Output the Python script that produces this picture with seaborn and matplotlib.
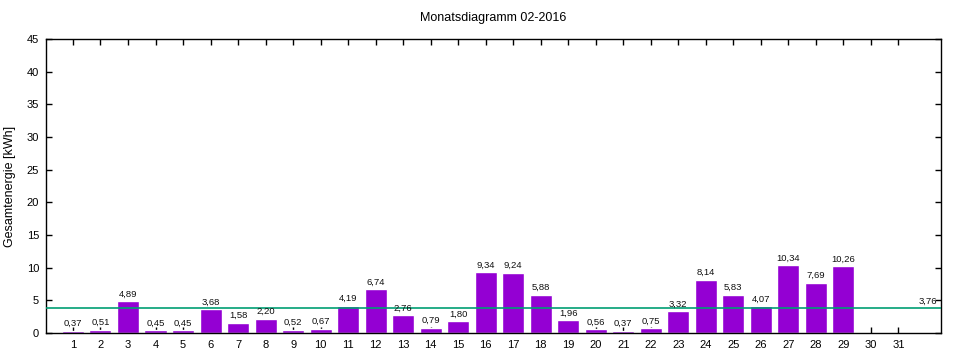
import matplotlib
matplotlib.use("Agg")
import matplotlib.pyplot as plt
import seaborn as sns
import pandas as pd
import numpy as np

days = list(range(1, 32))
values = [0.37, 0.51, 4.89, 0.45, 0.45, 3.68, 1.58, 2.20, 0.52, 0.67,
          4.19, 6.74, 2.76, 0.79, 1.80, 9.34, 9.24, 5.88, 1.96, 0.56,
          0.37, 0.75, 3.32, 8.14, 5.83, 4.07, 10.34, 7.69, 10.26]
average = 3.76
title = "Monatsdiagramm 02-2016"
ylabel = "Gesamtenergie [kWh]"
yticks = [0, 5, 10, 15, 20, 25, 30, 35, 40, 45]

sns.set_style("ticks")
plt.rcParams['font.family'] = ['Liberation Sans', 'DejaVu Sans']
plt.rcParams['text.color'] = 'black'
plt.rcParams['axes.labelcolor'] = 'black'
plt.rcParams['xtick.color'] = 'black'
plt.rcParams['ytick.color'] = 'black'

df = pd.DataFrame({"day": days[:len(values)], "value": values})

fig = plt.figure(figsize=(9.6, 3.6), dpi=100)
ax = fig.add_axes([46/960, 27/360, (941-46)/960, (333-39)/360])

sns.barplot(data=df, x="day", y="value", native_scale=True, width=0.8,
            color="#9400D3", saturation=1, ax=ax, zorder=2)

for d, v in zip(df["day"], df["value"]):
    ax.text(d, v + 0.4, f"{v:.2f}".replace(".", ","), ha="center", va="bottom",
            fontsize=6.8, color="#111111", zorder=4)

ax.axhline(average, color="#009E73", lw=1.2, zorder=3)
ax.text(32.4, average + 0.4, f"{average:.2f}".replace(".", ","), ha="right",
        va="bottom", fontsize=6.8, color="#111111")

ax.set_xlim(0.02, 32.55)
ax.set_ylim(0, 45)
ax.set_xticks(days)
ax.set_xticklabels([str(d) for d in days])
ax.set_yticks(yticks)
ax.set_xlabel("")
ax.set_ylabel(ylabel, fontsize=9, labelpad=8)
ax.set_title(title, fontsize=9, pad=13)
ax.tick_params(direction="in", top=True, right=True, labelsize=8, length=4,
               width=1, pad=5)
for s in ax.spines.values():
    s.set_visible(True)
    s.set_linewidth(1)
    s.set_color("black")

fig.savefig("out.png", dpi=100)
